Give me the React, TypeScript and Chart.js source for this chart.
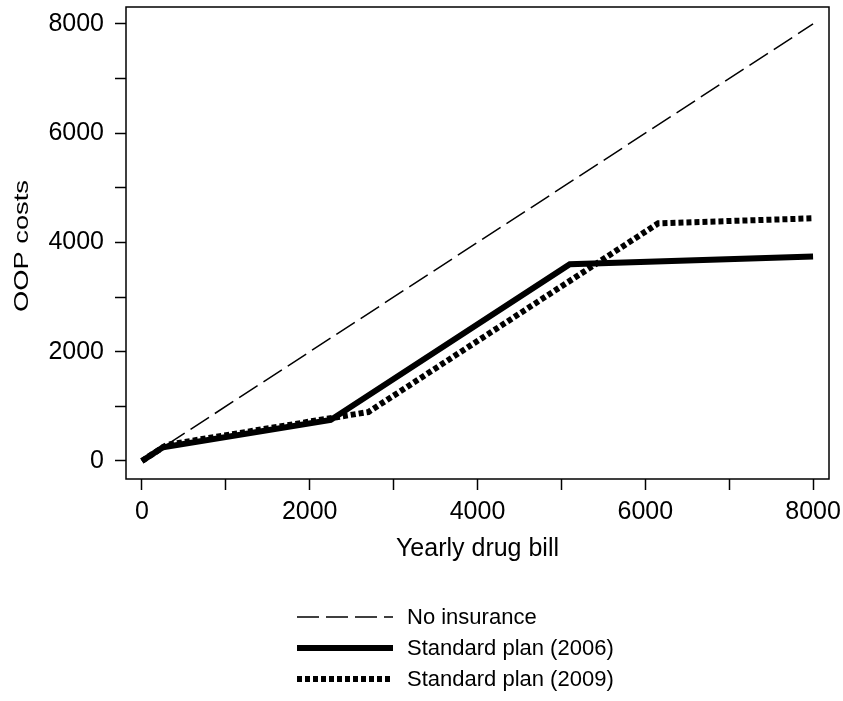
import React, { useEffect, useRef } from "react";
import { Chart, registerables } from "chart.js";

Chart.register(...registerables);

// Data
const noInsuranceBill = [0, 8000];
const noInsuranceOOP = [0, 8000];
const bill2006 = [0, 250, 2250, 5100, 8000];
const oop2006 = [0, 250, 750, 3600, 3745];
const bill2009 = [0, 295, 2700, 6154, 8000];
const oop2009 = [0, 295, 896, 4350, 4442];
const tickValues = [0, 1000, 2000, 3000, 4000, 5000, 6000, 7000, 8000];
const seriesLabels = ["No insurance", "Standard plan (2006)", "Standard plan (2009)"];
const xTitle = "Yearly drug bill";
const yTitle = "OOP costs";

const FONT = "'Liberation Sans', Arial, Helvetica, sans-serif";

const toPoints = (xs: number[], ys: number[]) => xs.map((x, i) => ({ x, y: ys[i] }));

const boxPlugin = {
  id: "boxPlugin",
  afterDatasetsDraw(chart: any) {
    const { ctx, chartArea } = chart;
    ctx.save();
    ctx.strokeStyle = "#000";
    ctx.lineWidth = 1.5;
    ctx.strokeRect(chartArea.left, chartArea.top, chartArea.right - chartArea.left, chartArea.bottom - chartArea.top);
    ctx.restore();
  },
};

const yTitlePlugin = {
  id: "yTitlePlugin",
  afterDraw(chart: any) {
    const { ctx, chartArea } = chart;
    ctx.save();
    ctx.translate(28, (chartArea.top + chartArea.bottom) / 2 + 3);
    ctx.rotate(-Math.PI / 2);
    ctx.scale(1.3, 1);
    ctx.fillStyle = "#000";
    ctx.font = `21px ${FONT}`;
    ctx.textAlign = "center";
    ctx.textBaseline = "alphabetic";
    ctx.fillText(yTitle, 0, 0);
    ctx.restore();
  },
};

const legendPlugin = {
  id: "customLegend",
  afterDraw(chart: any) {
    const { ctx } = chart;
    const rows = [617, 648, 679];
    const x0 = 297;
    const x1 = 393;
    const tx = 407;
    ctx.save();
    chart.data.datasets.forEach((ds: any, i: number) => {
      const y = rows[i];
      ctx.beginPath();
      ctx.strokeStyle = ds.borderColor;
      ctx.lineWidth = ds.borderWidth;
      ctx.setLineDash(ds.borderDash || []);
      ctx.lineCap = "butt";
      ctx.moveTo(x0, y);
      ctx.lineTo(x1, y);
      ctx.stroke();
      ctx.setLineDash([]);
      ctx.fillStyle = "#000";
      ctx.font = `22px ${FONT}`;
      ctx.textAlign = "left";
      ctx.textBaseline = "middle";
      ctx.fillText(ds.label, tx, y + 1);
    });
    ctx.restore();
  },
};

const setTicks = (scale: any) => {
  scale.ticks = tickValues.map((v) => ({ value: v }));
};

const tickLabel = (v: any) => (Number(v) % 2000 === 0 ? String(v) : "");

export default function App() {
  const ref = useRef<HTMLCanvasElement | null>(null);
  useEffect(() => {
    if (!ref.current) return;
    const chart = new Chart(ref.current, {
      type: "line",
      data: {
        datasets: [
          {
            label: seriesLabels[0],
            data: toPoints(noInsuranceBill, noInsuranceOOP),
            borderColor: "#000",
            borderWidth: 1.5,
            borderDash: [22, 7],
            pointRadius: 0,
            fill: false,
          },
          {
            label: seriesLabels[1],
            data: toPoints(bill2006, oop2006),
            borderColor: "#000",
            borderWidth: 6,
            pointRadius: 0,
            fill: false,
          },
          {
            label: seriesLabels[2],
            data: toPoints(bill2009, oop2009),
            borderColor: "#000",
            borderWidth: 6,
            borderDash: [5, 3],
            pointRadius: 0,
            fill: false,
          },
        ],
      },
      options: {
        animation: false,
        responsive: false,
        maintainAspectRatio: false,
        layout: { padding: { left: 0, top: 7, right: 14, bottom: 122 } },
        plugins: { legend: { display: false }, tooltip: { enabled: false } },
        scales: {
          x: {
            type: "linear",
            min: -190,
            max: 8190,
            afterBuildTicks: setTicks,
            afterFit: (s: any) => {
              s.height = 100;
              s.paddingLeft = 0;
              s.paddingRight = 0;
            },
            border: { display: false },
            grid: { drawOnChartArea: false, drawTicks: true, tickLength: 11, tickColor: "#000", tickWidth: 1.5 },
            ticks: {
              autoSkip: false,
              maxRotation: 0,
              padding: 7,
              color: "#000",
              font: { family: FONT, size: 25 },
              callback: tickLabel,
            },
            title: {
              display: true,
              text: xTitle,
              color: "#000",
              font: { family: FONT, size: 25 },
              padding: { top: 0, bottom: 15 },
            },
          },
          y: {
            type: "linear",
            min: -330,
            max: 8310,
            afterBuildTicks: setTicks,
            afterFit: (s: any) => {
              s.width = 126;
              s.paddingTop = 0;
              s.paddingBottom = 0;
            },
            border: { display: false },
            grid: { drawOnChartArea: false, drawTicks: true, tickLength: 11, tickColor: "#000", tickWidth: 1.5 },
            ticks: {
              autoSkip: false,
              padding: 11,
              color: "#000",
              font: { family: FONT, size: 25 },
              callback: tickLabel,
            },
            title: { display: false, text: yTitle },
          },
        },
      },
      plugins: [boxPlugin, yTitlePlugin, legendPlugin],
    } as any);
    return () => chart.destroy();
  }, []);
  return (
    <div style={{ position: "absolute", left: 0, top: 0, width: 843, height: 701, background: "#fff" }}>
      <canvas ref={ref} width={843} height={701} style={{ width: 843, height: 701, display: "block" }} />
    </div>
  );
}
